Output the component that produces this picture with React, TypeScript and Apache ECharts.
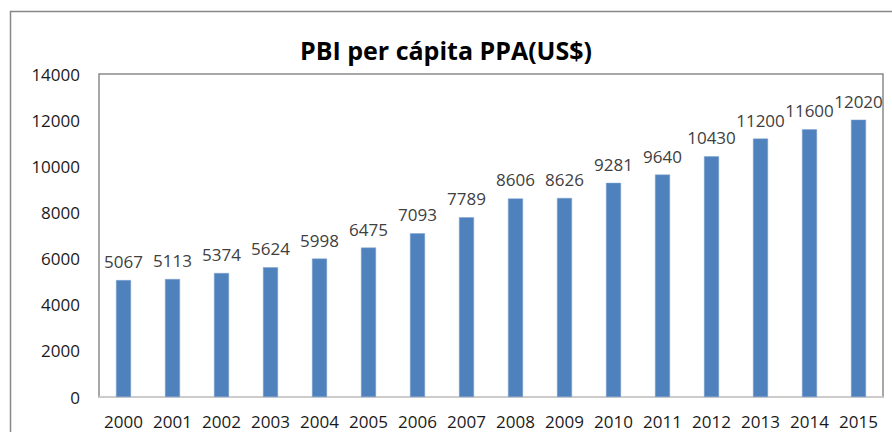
import React, { useEffect, useRef } from "react";
import * as echarts from "echarts";

const years = ["2000","2001","2002","2003","2004","2005","2006","2007","2008","2009","2010","2011","2012","2013","2014","2015"];
const pbi = [5067,5113,5374,5624,5998,6475,7093,7789,8606,8626,9281,9640,10430,11200,11600,12020];
const titleText = "PBI per cápita PPA(US$)";

export default function App() {
  const ref = useRef<HTMLDivElement>(null);
  useEffect(() => {
    const chart = echarts.init(ref.current!, null, { renderer: "svg" });
    const font = "'Open Sans', 'Noto Sans', sans-serif";
    chart.setOption({
      animation: false,
      backgroundColor: "#ffffff",
      title: {
        text: titleText,
        left: "center",
        top: 32,
        textStyle: { fontFamily: font, fontSize: 25, fontWeight: "bold", color: "#000" },
      },
      graphic: [
        {
          type: "rect",
          shape: { x: 10.5, y: 11.5, width: 900, height: 440 },
          style: { fill: "none", stroke: "#878787", lineWidth: 1.5 },
          silent: true,
        },
      ],
      grid: {
        left: 99, right: 9, top: 74, bottom: 35,
        show: true, borderColor: "#8a8a8a", borderWidth: 1.5,
      },
      xAxis: {
        type: "category",
        data: years,
        axisLine: { lineStyle: { color: "#d9d9d9", width: 1.5 } },
        axisTick: { show: false },
        axisLabel: { fontFamily: font, fontSize: 17, color: "#1a1a1a", margin: 16, interval: 0 },
      },
      yAxis: {
        type: "value",
        min: 0, max: 14000, interval: 2000,
        splitLine: { show: false },
        axisLine: { show: false },
        axisTick: { show: false },
        axisLabel: { fontFamily: font, fontSize: 17, color: "#1a1a1a", margin: 19, formatter: (v: number) => String(v) },
      },
      series: [
        {
          type: "bar",
          data: pbi,
          barWidth: 15,
          itemStyle: { color: "#4f81bd", borderColor: "#7fa3d0", borderWidth: 0.5 },
          label: {
            show: true, position: "top", distance: 10,
            fontFamily: font, fontSize: 17, color: "#404040",
          },
        },
      ],
    });
    return () => chart.dispose();
  }, []);
  return <div ref={ref} style={{ width: 892, height: 432, position: "absolute", left: 0, top: 0 }} />;
}
